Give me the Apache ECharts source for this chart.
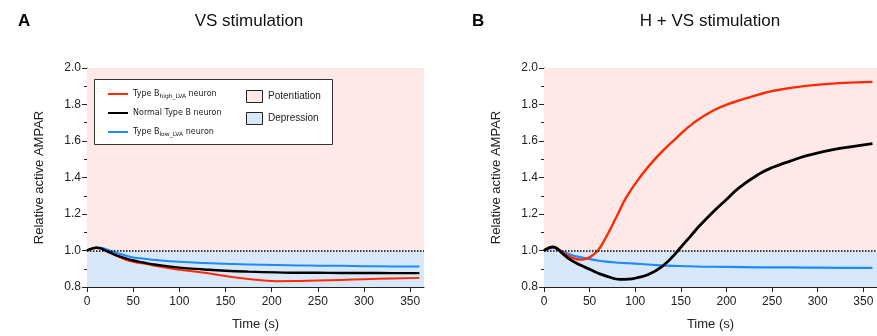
<!DOCTYPE html>
<html>
<head>
<meta charset="utf-8">
<script src="https://cdn.jsdelivr.net/npm/echarts@6/dist/echarts.min.js"></script>
<style>html,body{margin:0;padding:0;background:#fff}#c{width:877px;height:336px}</style>
</head>
<body>
<div id="c"></div>
<script>
// ---- Data ----
const seriesNames = ['Type B_high_LVA neuron', 'Normal Type B neuron', 'Type B_low_LVA neuron'];
const panelTitles = ['VS stimulation', 'H + VS stimulation'];
const panelLetters = ['A', 'B'];
const xTicks = [0, 50, 100, 150, 200, 250, 300, 350];

// Panel A (VS stimulation)
const timesA = [0, 5, 10, 15, 20, 30, 40, 50, 62, 75, 100, 127, 150, 175, 205, 230, 250, 275, 300, 330, 360];
const redA   = [1.0, 1.01, 1.015, 1.01, 0.998, 0.975, 0.953, 0.938, 0.928, 0.915, 0.894, 0.878, 0.86, 0.844, 0.832, 0.833, 0.835, 0.839, 0.843, 0.847, 0.85];
const blackA = [1.0, 1.01, 1.015, 1.012, 1.0, 0.978, 0.96, 0.945, 0.933, 0.922, 0.906, 0.896, 0.889, 0.884, 0.88, 0.878, 0.878, 0.877, 0.877, 0.876, 0.876];
const blueA  = [1.0, 1.01, 1.016, 1.015, 1.008, 0.99, 0.975, 0.962, 0.955, 0.948, 0.938, 0.931, 0.927, 0.923, 0.92, 0.918, 0.917, 0.916, 0.914, 0.913, 0.912];

// Panel B (H + VS stimulation)
const timesRedB = [0, 5, 10, 15, 20, 30, 41, 48, 54, 59, 65, 81, 90, 105, 123, 145, 163, 185, 207, 236, 251, 287, 324, 360];
const redB      = [1.0, 1.013, 1.02, 1.01, 0.992, 0.962, 0.95, 0.958, 0.977, 1.0, 1.045, 1.2, 1.29, 1.4, 1.509, 1.616, 1.695, 1.766, 1.811, 1.855, 1.875, 1.902, 1.917, 1.924];
const timesBlackB = [0, 5, 10, 15, 20, 30, 41, 50, 60, 70, 83, 93, 100, 115, 130, 143, 150, 160, 171, 185, 200, 214, 236, 251, 270, 287, 305, 324, 343, 360];
const blackB      = [1.0, 1.013, 1.02, 1.008, 0.985, 0.946, 0.918, 0.897, 0.874, 0.857, 0.842, 0.843, 0.848, 0.87, 0.915, 0.977, 1.018, 1.075, 1.138, 1.21, 1.28, 1.345, 1.42, 1.456, 1.49, 1.518, 1.54, 1.559, 1.573, 1.585];
const timesBlueB = [0, 5, 10, 15, 20, 30, 41, 50, 60, 70, 83, 93, 106, 123, 147, 171, 200, 236, 270, 305, 343, 360];
const blueB      = [1.0, 1.012, 1.014, 1.005, 0.995, 0.975, 0.962, 0.953, 0.944, 0.938, 0.933, 0.93, 0.926, 0.92, 0.915, 0.912, 0.91, 0.908, 0.907, 0.906, 0.905, 0.905];

// ---- Styles ----
const COLORS = ['#ff2a00', '#000000', '#1a8cff'];
const PINK = '#ffe8e8';
const LIGHTBLUE = '#d9e8f9';
const FONT = '"Liberation Sans", Arial, sans-serif';
const AXC = '#222';

const zip = (t, v) => t.map((x, i) => [x, v[i]]);

const grids = [
  { left: 87, top: 68, width: 337, height: 225 },
  { left: 544, top: 68, width: 333, height: 225 }
];

function xAxisCfg(i) {
  return {
    type: 'value', gridIndex: i, min: 0, max: 365,
    name: 'Time (s)', nameLocation: 'middle', nameGap: 31,
    nameTextStyle: { fontFamily: FONT, fontSize: 13, color: AXC },
    axisLine: { lineStyle: { color: AXC, width: 1 } },
    axisTick: { show: true, length: 5, customValues: xTicks, lineStyle: { color: AXC } },
    axisLabel: { customValues: xTicks, fontFamily: FONT, fontSize: 12, color: AXC, margin: 9 },
    splitLine: { show: false }
  };
}
function yAxisCfg(i) {
  return {
    type: 'value', gridIndex: i, min: 0.8, max: 2.0, interval: 0.2,
    name: 'Relative active AMPAR', nameLocation: 'middle', nameGap: 41,
    nameTextStyle: { fontFamily: FONT, fontSize: 13, color: AXC },
    axisLine: { show: true, lineStyle: { color: AXC, width: 1 } },
    axisTick: { show: true, length: 5, lineStyle: { color: AXC } },
    minorTick: { show: true, splitNumber: 2, length: 3, lineStyle: { color: AXC } },
    axisLabel: { fontFamily: FONT, fontSize: 12, color: AXC, margin: 6,
      formatter: v => v.toFixed(1) },
    splitLine: { show: false }
  };
}

function bgSeries(i) {
  return {
    type: 'line', xAxisIndex: i, yAxisIndex: i, data: [[0, 1.0]], symbol: 'none',
    lineStyle: { opacity: 0 }, silent: true, z: 1, name: 'bg' + i,
    markArea: {
      silent: true,
      data: [
        [{ yAxis: 1.0, itemStyle: { color: PINK } }, { yAxis: 2.0 }],
        [{ yAxis: 0.8, itemStyle: { color: LIGHTBLUE } }, { yAxis: 1.0 }]
      ]
    },
    markLine: {
      silent: true, symbol: 'none', label: { show: false },
      lineStyle: { color: '#000', type: [1.5, 1.5], width: 1.5 },
      data: [{ yAxis: 1.0 }]
    }
  };
}

function lineSeries(i, k, t, v, w) {
  return {
    type: 'line', name: seriesNames[k], xAxisIndex: i, yAxisIndex: i,
    data: zip(t, v), smooth: 0.5, symbol: 'none', z: 3,
    lineStyle: { color: COLORS[k], width: w },
    itemStyle: { color: COLORS[k] }
  };
}

const series = [
  bgSeries(0), bgSeries(1),
  lineSeries(0, 0, timesA, redA, 2),
  lineSeries(0, 2, timesA, blueA, 2),
  lineSeries(0, 1, timesA, blackA, 2.4),
  lineSeries(1, 2, timesBlueB, blueB, 2.2),
  lineSeries(1, 0, timesRedB, redB, 2.4),
  lineSeries(1, 1, timesBlackB, blackB, 2.8)
];

const legendFont = '"DejaVu Sans", sans-serif';
const option = {
  animation: false,
  backgroundColor: '#fff',
  title: [
    { text: panelLetters[0], left: 13, top: 8, textStyle: { fontFamily: FONT, fontSize: 17, fontWeight: 'bold', color: '#000' } },
    { text: panelTitles[0], left: 244, top: 8, textAlign: 'center', textStyle: { fontFamily: FONT, fontSize: 17, fontWeight: 'normal', color: '#111' } },
    { text: panelLetters[1], left: 467, top: 8, textStyle: { fontFamily: FONT, fontSize: 17, fontWeight: 'bold', color: '#000' } },
    { text: panelTitles[1], left: 705, top: 8, textAlign: 'center', textStyle: { fontFamily: FONT, fontSize: 17, fontWeight: 'normal', color: '#111' } }
  ],
  grid: grids,
  xAxis: [xAxisCfg(0), xAxisCfg(1)],
  yAxis: [yAxisCfg(0), yAxisCfg(1)],
  legend: {
    data: seriesNames.map(n => ({ name: n, icon: 'rect' })),
    orient: 'vertical', left: 103, top: 83, z: 20,
    itemWidth: 20, itemHeight: 2, itemGap: 7,
    textStyle: {
      fontFamily: legendFont, fontSize: 8, color: '#222', lineHeight: 12,
      rich: { s: { fontFamily: legendFont, fontSize: 6, color: '#222', padding: [5, 0, 0, 0] },
              n: { fontFamily: legendFont, fontSize: 8, color: '#222' } }
    },
    formatter: name => {
      const m = name.match(/^Type B_(\w+?_LVA) neuron$/);
      if (m) return '{n|Type B}{s|' + m[1] + '}{n| neuron}';
      return name;
    }
  },
  graphic: [
    { type: 'rect', z: 10, shape: { x: 94.5, y: 79.5, width: 238, height: 65 },
      style: { fill: '#fff', stroke: '#333', lineWidth: 1 } },
    { type: 'rect', z: 21, shape: { x: 246.5, y: 90.5, width: 16, height: 12 },
      style: { fill: PINK, stroke: '#222', lineWidth: 1 } },
    { type: 'rect', z: 21, shape: { x: 246.5, y: 112.5, width: 16, height: 12 },
      style: { fill: LIGHTBLUE, stroke: '#222', lineWidth: 1 } },
    { type: 'text', z: 21, x: 268, y: 96.5, style: { text: 'Potentiation', fontFamily: FONT, fontSize: 10, fill: '#222', verticalAlign: 'middle' } },
    { type: 'text', z: 21, x: 268, y: 118.5, style: { text: 'Depression', fontFamily: FONT, fontSize: 10, fill: '#222', verticalAlign: 'middle' } }
  ],
  series: series
};

const chart = echarts.init(document.getElementById('c'), null, { renderer: 'canvas' });
chart.setOption(option);
</script>
</body>
</html>
